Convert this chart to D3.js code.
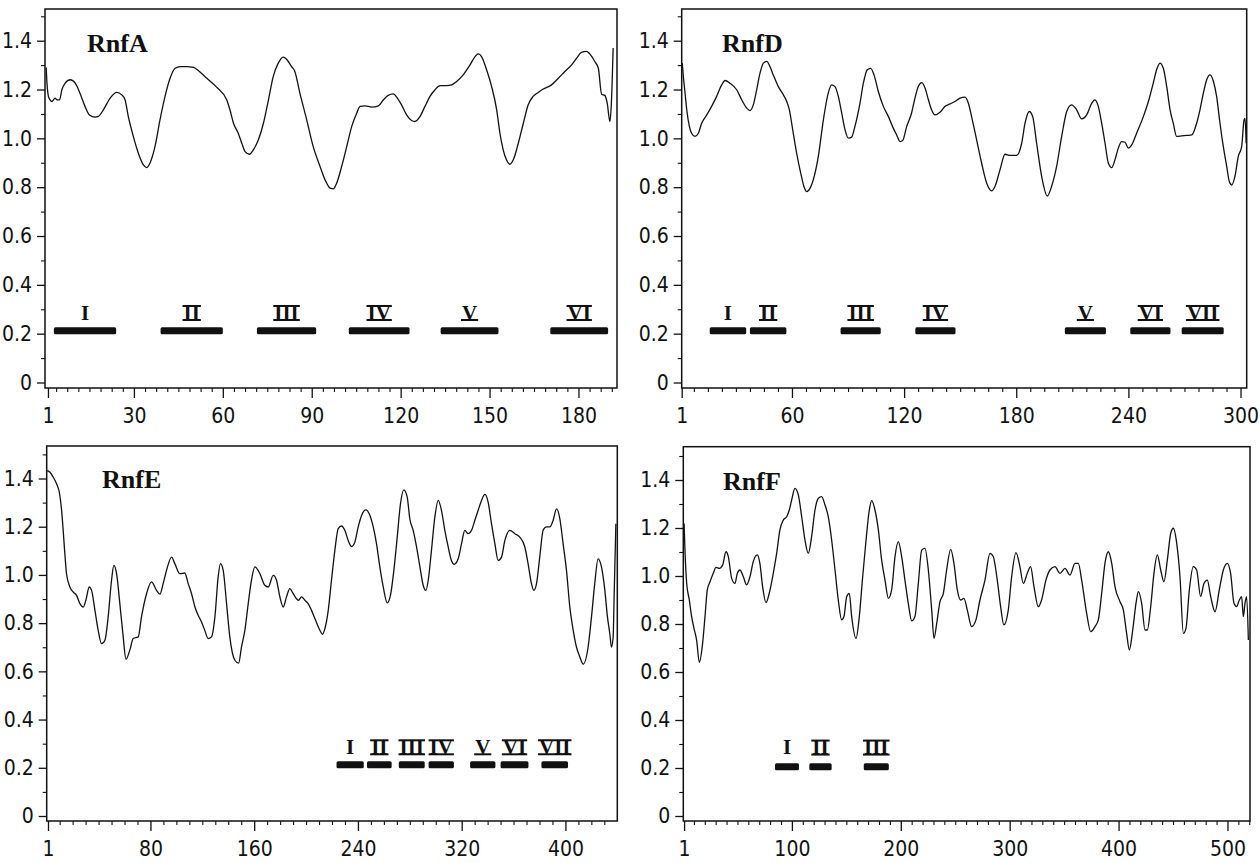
<!DOCTYPE html>
<html>
<head>
<meta charset="utf-8">
<script src="https://cdn.jsdelivr.net/npm/d3@7"></script>
<style>
  html, body { margin: 0; padding: 0; background: #fff; }
  svg { display: block; }
  .tick text { font-family: "Liberation Sans Narrow", "DejaVu Sans Condensed", "Roboto", sans-serif; font-size: 21px; fill: #111; }
</style>
</head>
<body>
<svg id="chart" width="1260" height="863"></svg>
<script>
// ---------------- DATA ----------------
const yTickValues = [0, 0.2, 0.4, 0.6, 0.8, 1.0, 1.2, 1.4];
const yMinorValues = [0.1, 0.3, 0.5, 0.7, 0.9, 1.1, 1.3, 1.5];

// RnfA
const rnfA_title = "RnfA";
const rnfA_xTicks = [1, 30, 60, 90, 120, 150, 180];
const rnfA_pos = [0.4,0.7,1.2,1.7,2.3,3.4,4.0,4.9,5.7,6.8,8.5,10.2,11.8,13.5,15.0,16.9,18.0,19.7,22.0,24.2,25.9,27.0,28.1,29.8,31.5,33.2,34.3,35.4,37.1,38.8,40.5,42.2,43.9,45.6,47.8,50.1,51.7,54.6,57.9,61.3,62.4,63.6,65.2,66.4,67.5,69.0,70.3,72.0,73.7,75.4,77.0,78.7,80.4,81.5,83.2,84.3,86.0,88.3,90.5,92.8,94.5,96.2,97.3,98.4,100.1,101.8,103.5,105.2,106.3,108.0,110.2,112.5,114.2,115.8,117.5,118.9,120.3,122.0,123.7,124.8,126.5,128.2,129.9,131.6,133.3,135.5,137.2,138.9,141.1,143.4,145.1,146.2,147.3,149.0,150.7,152.4,153.5,154.6,155.7,156.9,158.0,159.7,161.4,163.0,164.7,166.4,168.1,170.9,173.2,175.4,177.7,179.4,181.0,182.7,183.8,185.5,186.7,187.8,188.9,189.7,190.6,191.1,191.7];
const rnfA_val = [1.29,1.22,1.17,1.158,1.151,1.165,1.158,1.158,1.199,1.226,1.240,1.226,1.185,1.131,1.096,1.087,1.090,1.117,1.165,1.188,1.178,1.158,1.090,1.008,0.939,0.891,0.880,0.898,0.966,1.076,1.172,1.246,1.287,1.294,1.294,1.291,1.278,1.246,1.210,1.158,1.117,1.062,1.021,0.980,0.946,0.935,0.953,0.994,1.062,1.158,1.253,1.308,1.333,1.324,1.294,1.274,1.185,1.076,0.966,0.885,0.830,0.796,0.793,0.816,0.885,0.966,1.049,1.104,1.131,1.133,1.128,1.133,1.158,1.176,1.182,1.165,1.137,1.096,1.073,1.069,1.089,1.131,1.172,1.199,1.216,1.216,1.219,1.233,1.260,1.301,1.335,1.346,1.335,1.281,1.212,1.117,1.021,0.953,0.912,0.894,0.912,0.980,1.062,1.137,1.172,1.188,1.202,1.219,1.246,1.274,1.301,1.329,1.352,1.356,1.346,1.315,1.287,1.181,1.176,1.144,1.069,1.144,1.370];
const rnfA_segments = [[3,24],[39,60],[71.5,91.5],[102.5,123],[133.5,153],[170.5,190]];
const rnfA_segLabels = ["I","II","III","IV","V","VI"];

// RnfD
const rnfD_title = "RnfD";
const rnfD_xTicks = [1, 60, 120, 180, 240, 300];
const rnfD_pos = [1.3,1.9,2.8,3.7,5.1,6.3,8.1,9.9,11.7,14.4,17.0,19.7,22.4,24.2,26.8,30.4,33.1,35.8,37.5,39.3,41.1,42.9,44.7,46.5,48.2,50.0,52.7,55.4,57.2,58.6,60.4,62.5,64.7,66.4,67.9,69.7,71.4,74.1,76.8,79.4,81.2,83.0,84.8,86.6,88.4,90.2,91.9,93.7,96.4,98.2,100.3,102.1,103.9,106.2,108.9,111.6,114.2,116.0,117.8,119.2,121.4,124.0,125.8,127.6,129.4,131.2,133.0,134.7,136.5,139.2,141.9,144.6,147.2,149.9,152.6,154.4,156.1,158.8,161.5,164.2,166.8,168.6,171.3,174.0,176.7,180.2,182.9,184.7,187.0,188.8,190.9,193.6,196.6,198.9,201.6,204.3,207.0,209.6,212.3,215.0,217.7,220.4,222.1,223.9,225.7,227.5,229.3,231.1,232.8,234.6,236.4,238.2,240.0,241.8,244.4,248.0,250.7,253.3,255.1,256.9,258.7,260.5,262.3,264.0,265.8,268.5,271.2,273.9,276.5,278.3,280.1,281.9,283.7,285.5,287.2,289.0,290.8,292.6,294.0,295.3,297.0,298.8,300.6,301.9,302.4,303.0];
const rnfD_val = [1.308,1.253,1.185,1.117,1.049,1.021,1.008,1.021,1.062,1.096,1.131,1.172,1.219,1.237,1.226,1.199,1.158,1.124,1.114,1.137,1.199,1.267,1.308,1.315,1.294,1.260,1.212,1.178,1.151,1.117,1.035,0.939,0.857,0.803,0.782,0.796,0.830,0.926,1.076,1.185,1.219,1.212,1.172,1.104,1.035,1.001,1.005,1.049,1.144,1.226,1.281,1.287,1.260,1.192,1.131,1.089,1.042,1.014,0.987,0.991,1.049,1.104,1.165,1.212,1.228,1.206,1.158,1.117,1.096,1.107,1.131,1.141,1.151,1.165,1.169,1.144,1.089,0.994,0.898,0.816,0.785,0.803,0.871,0.935,0.930,0.930,0.980,1.062,1.110,1.089,0.980,0.844,0.764,0.803,0.885,1.008,1.110,1.137,1.117,1.080,1.096,1.144,1.158,1.131,1.062,0.980,0.898,0.880,0.912,0.960,0.987,0.984,0.960,0.973,1.021,1.089,1.151,1.226,1.281,1.308,1.287,1.212,1.117,1.062,1.008,1.010,1.012,1.014,1.062,1.117,1.185,1.240,1.260,1.233,1.172,1.062,0.966,0.885,0.823,0.809,0.844,0.926,0.966,1.076,1.082,0.980];
const rnfD_segments = [[16,35.5],[37.5,57],[86,107.5],[126,147.5],[206,228],[241,262.5],[268.5,291]];
const rnfD_segLabels = ["I","II","III","IV","V","VI","VII"];

// RnfE
const rnfE_title = "RnfE";
const rnfE_xTicks = [1, 80, 160, 240, 320, 400];
const rnfE_pos = [0.4,2.5,5.0,7.6,9.7,11.5,12.7,14.0,15.3,17.9,20.5,23.0,25.6,28.2,30.2,32.8,34.6,37.2,39.7,42.3,44.9,47.4,50.0,51.8,53.9,56.4,59.0,61.1,64.1,66.7,70.6,73.1,77.0,80.8,84.7,87.3,89.8,92.4,96.3,98.8,102.7,106.5,109.1,111.7,114.3,116.8,119.4,121.9,124.5,127.1,129.7,132.2,134.0,136.1,138.7,141.2,145.1,148.0,150.2,152.8,155.4,157.9,160.5,164.4,168.2,170.8,174.7,177.2,179.8,182.4,184.9,187.5,190.1,194.1,196.5,199.1,201.6,204.2,206.8,210.1,212.7,214.5,217.1,219.6,222.2,224.8,227.3,229.9,232.5,235.0,237.6,240.2,242.8,246.1,248.7,251.8,254.3,256.9,259.5,262.6,265.1,267.7,270.3,272.8,275.4,278.0,280.0,282.6,285.2,287.8,290.3,292.4,294.2,296.7,299.3,301.9,304.4,307.0,309.6,312.1,314.2,317.3,319.9,322.4,325.0,327.6,330.1,332.7,335.3,337.9,340.4,343.0,345.6,348.1,350.7,353.3,357.1,361.0,364.8,368.7,371.2,373.8,375.6,377.7,380.2,382.8,385.4,388.0,390.5,393.1,395.7,398.2,400.8,403.4,406.0,408.5,411.1,413.7,417.5,420.1,422.6,425.2,427.8,430.4,432.4,434.2,435.5,436.8,437.6,438.9];
const rnfE_val = [1.433,1.426,1.406,1.378,1.344,1.268,1.185,1.088,1.005,0.950,0.929,0.915,0.881,0.867,0.895,0.950,0.936,0.853,0.770,0.715,0.729,0.826,0.978,1.040,1.005,0.881,0.743,0.650,0.688,0.736,0.743,0.826,0.922,0.971,0.936,0.920,0.964,1.019,1.074,1.047,1.005,1.008,0.964,0.922,0.867,0.833,0.805,0.770,0.736,0.743,0.826,0.991,1.047,1.019,0.881,0.743,0.646,0.634,0.701,0.770,0.881,0.978,1.033,1.005,0.957,0.950,0.998,0.978,0.909,0.867,0.909,0.943,0.922,0.895,0.909,0.895,0.881,0.853,0.819,0.777,0.754,0.777,0.853,0.978,1.102,1.192,1.203,1.185,1.143,1.118,1.136,1.199,1.247,1.270,1.254,1.199,1.130,1.033,0.950,0.884,0.916,1.019,1.157,1.295,1.353,1.323,1.233,1.185,1.116,1.033,0.957,0.936,0.978,1.102,1.240,1.309,1.268,1.185,1.116,1.060,1.044,1.067,1.130,1.185,1.171,1.185,1.226,1.268,1.309,1.334,1.302,1.212,1.130,1.060,1.074,1.143,1.185,1.171,1.157,1.116,1.047,0.964,0.936,0.964,1.074,1.185,1.199,1.199,1.226,1.274,1.233,1.130,1.019,0.867,0.770,0.701,0.660,0.630,0.701,0.826,0.964,1.067,1.033,0.936,0.826,0.757,0.701,0.743,0.922,1.212];
const rnfE_segments = [[223.5,244.5],[247,266],[271.5,291.5],[294.5,314],[326.5,346],[350,371.5],[381.5,402]];
const rnfE_segLabels = ["I","II","III","IV","V","VI","VII"];

// RnfF
const rnfF_title = "RnfF";
const rnfF_xTicks = [1, 100, 200, 300, 400, 500];
const rnfF_pos = [1.0,1.8,3.4,5.8,7.9,10.1,12.5,15.0,18.0,20.2,22.3,24.8,27.8,30.3,33.4,36.4,39.5,41.6,44.7,47.7,49.9,52.3,55.4,58.4,61.5,64.5,68.2,70.6,73.1,76.2,79.2,82.9,86.0,89.0,92.1,95.2,97.6,99.8,102.8,105.9,109.0,112.0,115.1,118.1,121.2,124.3,127.3,130.4,133.4,136.5,139.6,142.6,145.7,147.8,150.3,152.7,154.9,158.9,161.9,165.0,168.1,171.1,173.3,176.3,179.4,182.4,185.5,188.6,191.6,194.7,197.7,200.8,203.8,206.9,210.0,213.0,216.1,219.2,222.2,225.3,228.4,230.5,233.0,236.0,239.1,242.1,245.8,248.8,251.9,255.0,258.0,261.1,265.1,269.0,272.7,277.3,281.9,284.9,288.6,291.7,294.7,298.7,301.8,305.8,309.4,312.5,316.2,319.2,322.3,326.3,329.3,333.3,337.0,341.6,346.2,350.8,355.4,360.0,363.0,366.1,370.7,374.4,378.3,381.4,384.5,387.5,390.6,393.7,396.7,401.3,404.4,407.4,409.9,413.0,416.0,418.2,421.2,424.3,426.4,429.5,432.5,435.6,438.7,441.7,444.8,447.9,450.3,453.4,456.4,459.5,461.9,465.0,468.6,471.7,475.4,478.4,481.5,484.6,488.6,492.5,496.2,499.9,502.9,506.0,508.4,510.9,513.0,514.6,516.1,517.6,519.2];
const rnfF_val = [1.219,1.108,0.969,0.900,0.831,0.782,0.733,0.640,0.719,0.831,0.942,0.976,1.011,1.036,1.032,1.046,1.101,1.081,0.990,0.969,1.011,1.025,0.997,0.963,0.997,1.060,1.088,1.053,0.956,0.889,0.928,1.011,1.094,1.192,1.233,1.247,1.275,1.317,1.365,1.338,1.247,1.150,1.094,1.164,1.275,1.324,1.331,1.296,1.247,1.150,1.025,0.900,0.817,0.831,0.914,0.928,0.831,0.740,0.831,0.997,1.150,1.275,1.314,1.275,1.192,1.067,0.983,0.907,0.942,1.081,1.143,1.081,0.983,0.886,0.813,0.831,0.969,1.108,1.115,1.025,0.858,0.740,0.803,0.893,0.928,1.025,1.111,1.053,0.942,0.900,0.907,0.858,0.789,0.817,0.900,0.983,1.094,1.081,0.983,0.872,0.796,0.858,0.997,1.097,1.039,0.969,1.011,1.039,0.956,0.872,0.900,0.983,1.025,1.039,1.011,1.032,1.004,1.053,1.053,0.983,0.844,0.768,0.789,0.817,0.928,1.053,1.101,1.053,0.956,0.893,0.858,0.761,0.692,0.775,0.886,0.935,0.886,0.775,0.775,0.872,1.011,1.088,1.025,0.976,1.067,1.178,1.199,1.136,0.997,0.761,0.782,0.942,1.039,1.025,0.914,0.969,0.983,0.914,0.851,0.942,1.025,1.053,1.011,0.886,0.872,0.900,0.914,0.831,0.886,0.914,0.733];
const rnfF_segments = [[84.5,106.5],[116,136.5],[166,189]];
const rnfF_segLabels = ["I","II","III"];

// ---------------- LAYOUT (pixels) ----------------
const layouts = [
  { title: rnfA_title, pos: rnfA_pos, val: rnfA_val, xTicks: rnfA_xTicks, minorStep: 3.75, segs: rnfA_segments, segLabels: rnfA_segLabels,
    left: 45, right: 617, top: 9, bottom: 388, y0: 382.5, y14: 40.7, xDomain: [0, 193], titleX: 87, titleY: 52, labelY: 423, barVal: 0.212 },
  { title: rnfD_title, pos: rnfD_pos, val: rnfD_val, xTicks: rnfD_xTicks, minorStep: 7.5, segs: rnfD_segments, segLabels: rnfD_segLabels,
    left: 681.7, right: 1246.7, top: 9, bottom: 388, y0: 382.5, y14: 40.7, xDomain: [1, 303.3], titleX: 722, titleY: 52, labelY: 423, barVal: 0.212 },
  { title: rnfE_title, pos: rnfE_pos, val: rnfE_val, xTicks: rnfE_xTicks, minorStep: 10, segs: rnfE_segments, segLabels: rnfE_segLabels,
    left: 46.7, right: 617.3, top: 446, bottom: 821, y0: 816, y14: 478.5, xDomain: [0, 440], titleX: 102, titleY: 488, labelY: 856, barVal: 0.213 },
  { title: rnfF_title, pos: rnfF_pos, val: rnfF_val, xTicks: rnfF_xTicks, minorStep: 10, segs: rnfF_segments, segLabels: rnfF_segLabels,
    left: 683.3, right: 1250, top: 446.7, bottom: 821, y0: 816, y14: 480, xDomain: [0.27, 520.7], titleX: 723, titleY: 490, labelY: 856, barVal: 0.205 }
];

const svg = d3.select("#chart");
svg.append("rect").attr("width", 1260).attr("height", 863).attr("fill", "#fff");

layouts.forEach(L => {
  const g = svg.append("g");
  const x = d3.scaleLinear().domain(L.xDomain).range([L.left, L.right]);
  const y = d3.scaleLinear().domain([0, 1.4]).range([L.y0, L.y14]);

  // frame
  g.append("rect")
    .attr("x", L.left).attr("y", L.top)
    .attr("width", L.right - L.left).attr("height", L.bottom - L.top)
    .attr("fill", "none").attr("stroke", "#111").attr("stroke-width", 1.5);

  // y axis major
  const yAx = g.append("g").attr("transform", `translate(${L.left},0)`)
    .call(d3.axisLeft(y).tickValues(yTickValues).tickSize(8).tickPadding(5)
      .tickFormat(d => d === 0 ? "0" : d3.format(".1f")(d)));
  yAx.select(".domain").remove();
  yAx.selectAll(".tick line").attr("stroke", "#111").attr("stroke-width", 1.3);
  // y axis minor
  const yMin = g.append("g").attr("transform", `translate(${L.left},0)`)
    .call(d3.axisLeft(y).tickValues(yMinorValues).tickSize(4).tickFormat(""));
  yMin.select(".domain").remove();
  yMin.selectAll(".tick line").attr("stroke", "#111").attr("stroke-width", 1.1);

  // x axis major
  const xAx = g.append("g").attr("transform", `translate(0,${L.bottom})`)
    .call(d3.axisBottom(x).tickValues(L.xTicks).tickSize(10).tickPadding(0).tickFormat(d3.format("d")));
  xAx.select(".domain").remove();
  xAx.selectAll(".tick line").attr("stroke", "#111").attr("stroke-width", 1.3);
  xAx.selectAll(".tick text").attr("dy", null).attr("y", L.labelY - L.bottom).attr("dominant-baseline", "alphabetic");
  // x axis minor
  const minorVals = d3.range(L.minorStep, L.xDomain[1], L.minorStep).filter(v => !L.xTicks.some(t => Math.abs(t - v) < 1.5));
  const xMin = g.append("g").attr("transform", `translate(0,${L.bottom})`)
    .call(d3.axisBottom(x).tickValues(minorVals).tickSize(4).tickFormat(""));
  xMin.select(".domain").remove();
  xMin.selectAll(".tick line").attr("stroke", "#111").attr("stroke-width", 1.1);

  // curve
  const line = d3.line()
    .x((d, i) => x(L.pos[i]))
    .y((d, i) => y(L.val[i]))
    .curve(d3.curveMonotoneX);
  g.append("path").datum(L.val)
    .attr("d", line)
    .attr("fill", "none").attr("stroke", "#111").attr("stroke-width", 1.3)
    .attr("stroke-linejoin", "round");

  // title
  g.append("text").attr("x", L.titleX).attr("y", L.titleY)
    .attr("font-family", "'Liberation Serif', 'Times New Roman', serif")
    .attr("font-weight", "bold").attr("font-size", 26).attr("fill", "#111")
    .text(L.title);

  // segment bars
  const barH = 7;
  g.selectAll("rect.seg").data(L.segs).enter().append("rect")
    .attr("class", "seg")
    .attr("x", d => x(d[0])).attr("width", d => x(d[1]) - x(d[0]))
    .attr("y", y(L.barVal) - barH / 2).attr("height", barH)
    .attr("rx", 1.5)
    .attr("fill", "#111");

  // segment labels (roman numerals)
  const baseY = y(0.258);
  L.segs.forEach((s, i) => {
    const cx = x((s[0] + s[1]) / 2);
    const lab = L.segLabels[i];
    const t = g.append("text").attr("x", cx).attr("y", baseY)
      .attr("text-anchor", "middle")
      .attr("font-family", "'Liberation Serif', 'Times New Roman', serif")
      .attr("font-weight", "bold").attr("font-size", 21).attr("fill", "#111")
      .text(lab);
    if (lab.length > 1 || lab === "V") {
      const w = t.node().getComputedTextLength();
      g.append("line").attr("x1", cx - w / 2 - 1).attr("x2", cx + w / 2 + 1)
        .attr("y1", baseY + 0.5).attr("y2", baseY + 0.5)
        .attr("stroke", "#111").attr("stroke-width", 2);
      if (lab !== "V") {
        g.append("line").attr("x1", cx - w / 2 - 1).attr("x2", cx + w / 2 + 1)
          .attr("y1", baseY - 13.5).attr("y2", baseY - 13.5)
          .attr("stroke", "#111").attr("stroke-width", 2);
      }
    }
  });
});
</script>
</body>
</html>
